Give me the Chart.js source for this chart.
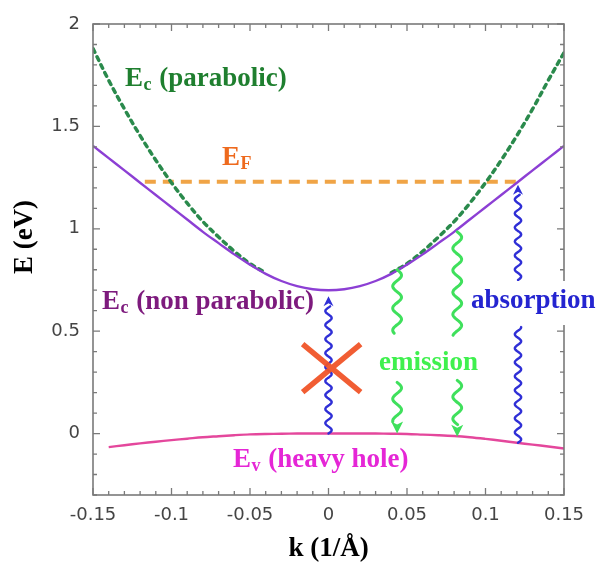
<!DOCTYPE html>
<html>
<head>
<meta charset="utf-8">
<script src="https://cdn.jsdelivr.net/npm/chart.js@4.4.1/dist/chart.umd.min.js"></script>
<style>
  html, body { margin: 0; padding: 0; background: #ffffff; }
  #wrap { width: 599px; height: 566px; }
</style>
</head>
<body>
<div id="wrap"><canvas id="bands"></canvas></div>
<script>
// Wave vector grid (1/Å) for the conduction band curves
const kGrid = [-0.15, -0.14, -0.13, -0.12, -0.11, -0.10, -0.09, -0.08, -0.07, -0.06, -0.05,
               -0.04, -0.03, -0.02, -0.01, 0, 0.01, 0.02, 0.03, 0.04, 0.05,
               0.06, 0.07, 0.08, 0.09, 0.10, 0.11, 0.12, 0.13, 0.14, 0.15];

// Conduction band, non-parabolic (eV)
const ecNonParabolic = [1.405, 1.345, 1.285, 1.225, 1.165, 1.105, 1.045, 0.985, 0.93, 0.875, 0.825,
                        0.78, 0.745, 0.72, 0.705, 0.70, 0.705, 0.72, 0.745, 0.78, 0.825,
                        0.875, 0.93, 0.985, 1.045, 1.105, 1.165, 1.225, 1.285, 1.345, 1.405];

// Conduction band, parabolic approximation (eV); near the minimum it runs
// under the non-parabolic curve and is not drawn
const ecParabolic = [1.88, 1.725, 1.585, 1.455, 1.335, 1.225, 1.125, 1.035, 0.96, 0.89, 0.83,
                     0.785, null, null, null, null, null, null, null, 0.785, 0.83,
                     0.89, 0.96, 1.035, 1.125, 1.225, 1.335, 1.455, 1.585, 1.725, 1.86];

// Heavy-hole valence band
const kValence = [-0.14, -0.13, -0.12, -0.11, -0.10, -0.09, -0.08, -0.07, -0.06, -0.05,
                  -0.04, -0.03, -0.02, -0.01, 0, 0.01, 0.02, 0.03, 0.04, 0.05,
                  0.06, 0.07, 0.08, 0.09, 0.10, 0.11, 0.12, 0.13, 0.14, 0.15];
const evHeavyHole = [-0.066, -0.057, -0.048, -0.040, -0.032, -0.025, -0.018, -0.013, -0.008, -0.004,
                     -0.002, -0.001, 0, 0, 0, 0, 0, 0, -0.001, -0.002,
                     -0.005, -0.008, -0.012, -0.018, -0.026, -0.035, -0.045, -0.054, -0.063, -0.073];

// Fermi level
const fermiK = [-0.117, 0.12];
const fermiE = [1.23, 1.23];

// Axis ticks
const xTickValues = [-0.15, -0.1, -0.05, 0, 0.05, 0.1, 0.15];
const yTickValues = [0, 0.5, 1, 1.5, 2];

// Optical transitions (vertical wavy arrows)
const transitionKind = ['absorption', 'absorption', 'emission', 'emission'];
const transitionK    = [0, 0.1207, 0.0437, 0.082];
const transitionFrom = [0, -0.045, 0.80, 0.985];
const transitionTo   = [0.67, 1.215, 0.0, -0.015];
const transitionGapLo = [null, 0.52, 0.25, 0.26];
const transitionGapHi = [null, 0.75, 0.49, 0.48];

// Forbidden transition marker
const forbiddenK = [0.002];
const forbiddenE = [0.32];

const pts = (xs, ys) => xs.map((x, i) => ({ x: x, y: ys[i] }));

const SERIF = '"Liberation Serif", "Times New Roman", serif';
const MAIN_FONT = 'bold 27px ' + SERIF;
const SUB_FONT = 'bold 18px ' + SERIF;

function drawLabel(ctx, x, y, parts, color, bg) {
  ctx.save();
  ctx.fillStyle = color;
  ctx.textBaseline = 'alphabetic';
  ctx.textAlign = 'left';
  let cx = x;
  const widths = parts.map(p => {
    ctx.font = p.sub ? SUB_FONT : MAIN_FONT;
    return ctx.measureText(p.t).width + (p.sub ? 1.5 : 0);
  });
  if (bg) {
    ctx.fillStyle = '#ffffff';
    const w = widths.reduce((a, b) => a + b, 0);
    ctx.fillRect(x - bg.padL, y - bg.up, w + bg.padL + bg.padR, bg.up + bg.down);
    ctx.fillStyle = color;
  }
  parts.forEach((p, i) => {
    ctx.font = p.sub ? SUB_FONT : MAIN_FONT;
    ctx.fillText(p.t, cx + (p.sub ? 0.5 : 0), p.sub ? y + 4 : y);
    cx += widths[i];
  });
  ctx.restore();
}

function waveSegment(ctx, x, y0, y1, amp, period) {
  const len = Math.abs(y1 - y0);
  const dir = Math.sign(y1 - y0);
  const n = Math.max(2, Math.ceil(len));
  ctx.beginPath();
  for (let i = 0; i <= n; i++) {
    const d = (i / n) * len;
    const px = x + amp * Math.sin((2 * Math.PI * d) / period);
    const py = y0 + dir * d;
    if (i === 0) ctx.moveTo(px, py); else ctx.lineTo(px, py);
  }
  ctx.stroke();
}

const bandPlugin = {
  id: 'bandDecor',
  afterDraw(chart) {
    const ctx = chart.ctx;
    const xs = chart.scales.x, ys = chart.scales.y;
    const a = chart.chartArea;

    // frame
    ctx.save();
    ctx.strokeStyle = '#7a7a7a';
    ctx.lineWidth = 1.6;
    ctx.strokeRect(a.left, a.top, a.right - a.left, a.bottom - a.top);

    // inward ticks on all four sides
    ctx.lineWidth = 1.3;
    ctx.beginPath();
    for (let i = -15; i <= 15; i++) {
      const v = i / 100;
      const major = i % 5 === 0;
      const len = major ? 7 : 4;
      const px = xs.getPixelForValue(v);
      ctx.moveTo(px, a.bottom); ctx.lineTo(px, a.bottom - len);
      ctx.moveTo(px, a.top); ctx.lineTo(px, a.top + len);
    }
    for (let i = -3; i <= 20; i++) {
      const v = i / 10;
      const major = i % 5 === 0;
      const len = major ? 7 : 4;
      const py = ys.getPixelForValue(v);
      ctx.moveTo(a.left, py); ctx.lineTo(a.left + len, py);
      ctx.moveTo(a.right, py); ctx.lineTo(a.right - len, py);
    }
    ctx.stroke();
    ctx.restore();

    // wavy transition arrows
    transitionK.forEach((k, i) => {
      const isAbs = transitionKind[i] === 'absorption';
      const color = isAbs ? '#2f2fd6' : '#3fe05c';
      const amp = isAbs ? 3.2 : 4.4;
      const period = isAbs ? 14 : 22;
      const x = xs.getPixelForValue(k);
      const yFrom = ys.getPixelForValue(transitionFrom[i]);
      const yTo = ys.getPixelForValue(transitionTo[i]);
      const dir = Math.sign(yTo - yFrom);
      const headLen = isAbs ? 10 : 12, headHalf = isAbs ? 5 : 6;
      const stemEnd = yTo - dir * headLen;
      ctx.save();
      ctx.strokeStyle = color;
      ctx.fillStyle = color;
      ctx.lineWidth = isAbs ? 2.4 : 3;
      ctx.lineCap = 'round';
      ctx.lineJoin = 'round';
      if (transitionGapLo[i] !== null) {
        const gLo = ys.getPixelForValue(transitionGapLo[i]);
        const gHi = ys.getPixelForValue(transitionGapHi[i]);
        const gNear = dir < 0 ? gLo : gHi;
        const gFar = dir < 0 ? gHi : gLo;
        waveSegment(ctx, x, yFrom, gNear, amp, period);
        waveSegment(ctx, x, gFar, stemEnd, amp, period);
      } else {
        waveSegment(ctx, x, yFrom, stemEnd, amp, period);
      }
      ctx.beginPath();
      ctx.moveTo(x, yTo);
      ctx.lineTo(x - headHalf, stemEnd);
      ctx.lineTo(x, stemEnd + dir * 3);
      ctx.lineTo(x + headHalf, stemEnd);
      ctx.closePath();
      ctx.fill();
      ctx.restore();
    });

    // forbidden transition cross
    forbiddenK.forEach((k, i) => {
      const cx = xs.getPixelForValue(k), cy = ys.getPixelForValue(forbiddenE[i]);
      ctx.save();
      ctx.strokeStyle = 'rgba(240, 84, 40, 0.95)';
      ctx.lineWidth = 5.5;
      ctx.lineCap = 'butt';
      ctx.beginPath();
      ctx.moveTo(cx - 29, cy - 24); ctx.lineTo(cx + 29, cy + 24);
      ctx.moveTo(cx + 29, cy - 24); ctx.lineTo(cx - 29, cy + 24);
      ctx.stroke();
      ctx.restore();
    });

    // curve and process labels
    drawLabel(ctx, 125, 86, [{ t: 'E' }, { t: 'c', sub: true }, { t: ' (parabolic)' }], '#1f7f2f');
    drawLabel(ctx, 222, 165, [{ t: 'E' }, { t: 'F', sub: true }], '#ee6a1e');
    drawLabel(ctx, 102, 309, [{ t: 'E' }, { t: 'c', sub: true }, { t: ' (non parabolic)' }], '#7d1a7d');
    drawLabel(ctx, 233, 467, [{ t: 'E' }, { t: 'v', sub: true }, { t: ' (heavy hole)' }], '#e526d6');
    drawLabel(ctx, 379, 370, [{ t: 'emission' }], '#3ff04e');
    drawLabel(ctx, 471, 308, [{ t: 'absorption' }], '#2424d0', { padL: 3, padR: 3, up: 27, down: 17 });

    // axis titles
    ctx.save();
    ctx.fillStyle = '#000000';
    ctx.font = MAIN_FONT;
    ctx.textAlign = 'center';
    ctx.textBaseline = 'alphabetic';
    ctx.fillText('k (1/Å)', (a.left + a.right) / 2, 556);
    ctx.translate(32, 237);
    ctx.rotate(-Math.PI / 2);
    ctx.fillText('E (eV)', 0, 0);
    ctx.restore();
  }
};

new Chart(document.getElementById('bands'), {
  type: 'line',
  data: {
    datasets: [
      {
        label: 'Ec non parabolic',
        data: pts(kGrid, ecNonParabolic),
        borderColor: '#8c3fd4',
        borderWidth: 2.4,
        pointRadius: 0,
        tension: 0.35,
        fill: false
      },
      {
        label: 'Ec parabolic',
        data: pts(kGrid, ecParabolic),
        borderColor: '#2a8a4c',
        borderWidth: 3.5,
        borderDash: [4, 5],
        borderCapStyle: 'round',
        pointRadius: 0,
        tension: 0.35,
        spanGaps: false,
        fill: false
      },
      {
        label: 'EF',
        data: pts(fermiK, fermiE),
        borderColor: '#f0a446',
        borderWidth: 4,
        borderDash: [11, 7],
        pointRadius: 0,
        fill: false
      },
      {
        label: 'Ev heavy hole',
        data: pts(kValence, evHeavyHole),
        borderColor: '#e4479c',
        borderWidth: 2.4,
        pointRadius: 0,
        tension: 0.35,
        fill: false
      }
    ]
  },
  options: {
    responsive: true,
    maintainAspectRatio: false,
    animation: false,
    layout: { padding: { top: 24, right: 35, left: 0, bottom: 0 } },
    plugins: {
      legend: { display: false },
      tooltip: { enabled: false }
    },
    scales: {
      x: {
        type: 'linear',
        min: -0.15,
        max: 0.15,
        afterBuildTicks: s => { s.ticks = xTickValues.map(v => ({ value: v })); },
        afterFit: s => { s.height = 71; },
        grid: { display: false, drawTicks: false },
        border: { display: false },
        ticks: {
          padding: 10,
          color: '#444444',
          font: { family: '"DejaVu Sans", sans-serif', size: 18 },
          maxRotation: 0,
          callback: v => String(Math.round(v * 100) / 100)
        }
      },
      y: {
        type: 'linear',
        min: -0.3,
        max: 2,
        afterBuildTicks: s => { s.ticks = yTickValues.map(v => ({ value: v })); },
        afterFit: s => { s.width = 93; },
        grid: { display: false, drawTicks: false },
        border: { display: false },
        ticks: {
          padding: 13,
          color: '#444444',
          font: { family: '"DejaVu Sans", sans-serif', size: 18 },
          callback: v => String(Math.round(v * 10) / 10)
        }
      }
    }
  },
  plugins: [bandPlugin]
});
</script>
</body>
</html>
